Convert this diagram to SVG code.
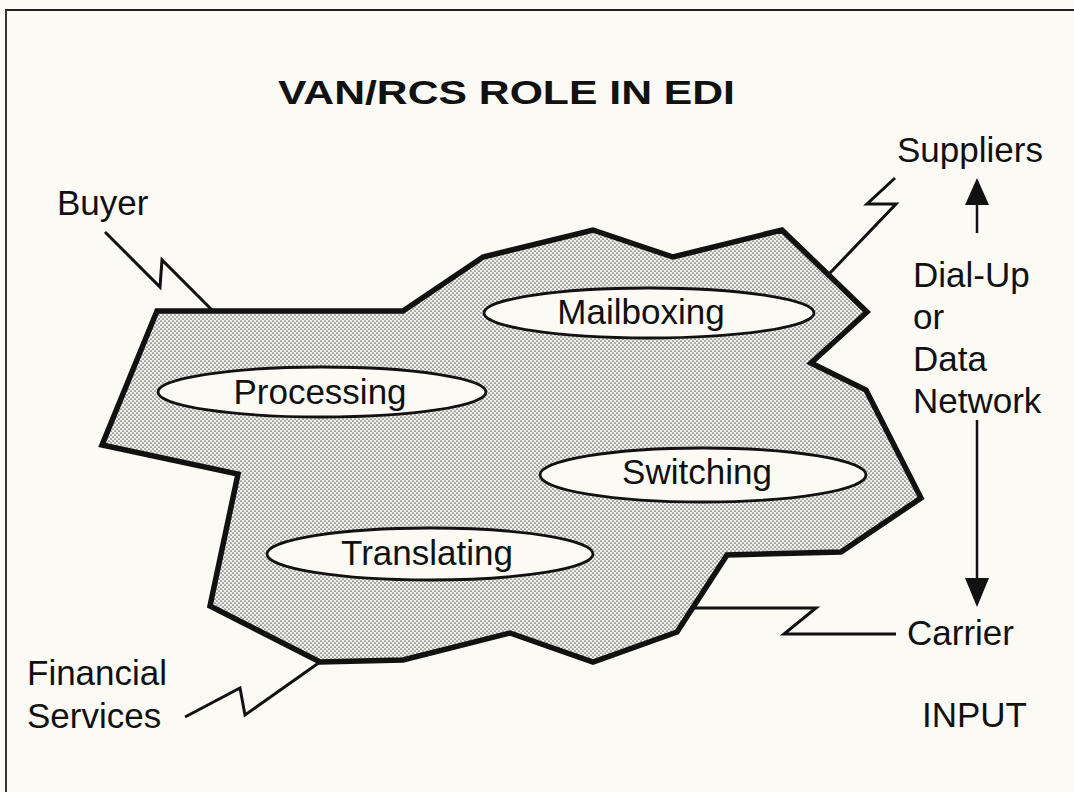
<svg xmlns="http://www.w3.org/2000/svg" width="1074" height="792" viewBox="0 0 1074 792">
  <style>
    .lbl { font-family: "Liberation Sans", Arial, sans-serif; font-size: 35px; fill: #111; }
    .title { font-family: "Liberation Sans", Arial, sans-serif; font-size: 34px; font-weight: bold; fill: #111; }
    .bolt { fill: none; stroke: #111; stroke-width: 3; stroke-linejoin: miter; }
    .task { fill: #fbfaf5; stroke: #111; stroke-width: 2.8; }
    .arrow { stroke: #111; stroke-width: 2.5; }
  </style>
  <defs>
    <!-- halftone dot screen for the network cloud -->
    <pattern id="dots" patternUnits="userSpaceOnUse" width="4" height="4">
      <rect width="4" height="4" fill="#f0f0ec"/>
      <circle cx="1" cy="1" r="0.85" fill="#6a6a6a"/>
      <circle cx="3" cy="3" r="0.85" fill="#6a6a6a"/>
    </pattern>
  </defs>

  <rect width="1074" height="792" fill="#fbfaf5"/>
  <!-- frame -->
  <path d="M6,792 V10 H1074" fill="none" stroke="#222" stroke-width="1.8"/>

  <text class="title" x="278" y="104" textLength="457" lengthAdjust="spacingAndGlyphs">VAN/RCS ROLE IN EDI</text>

  <!-- the VAN/RCS network -->
  <g id="network">
    <polygon points="157,311 403,311 483,257 593,230 673,257 782,230 867,312 811,363 866,390 921,498 841,552 727,555 677,632 593,662 510,633 403,660 320,662 210,606 238,474 102,445"
             fill="url(#dots)" stroke="#111" stroke-width="5.5" stroke-linejoin="miter"/>
  </g>

  <g id="mailboxing">
    <ellipse class="task" cx="649" cy="313" rx="165" ry="25"/>
    <text class="lbl" x="641" y="324" text-anchor="middle">Mailboxing</text>
  </g>
  <g id="processing">
    <ellipse class="task" cx="322" cy="392" rx="164" ry="25"/>
    <text class="lbl" x="320" y="404" text-anchor="middle">Processing</text>
  </g>
  <g id="switching">
    <ellipse class="task" cx="703" cy="475" rx="163" ry="27"/>
    <text class="lbl" x="697" y="484" text-anchor="middle">Switching</text>
  </g>
  <g id="translating">
    <ellipse class="task" cx="430" cy="554" rx="163" ry="26"/>
    <text class="lbl" x="427" y="565" text-anchor="middle">Translating</text>
  </g>

  <g id="buyer"><text class="lbl" x="57" y="215">Buyer</text></g>
  <g id="suppliers"><text class="lbl" x="897" y="162">Suppliers</text></g>
  <g id="carrier"><text class="lbl" x="907" y="645">Carrier</text></g>
  <g id="financial">
    <text class="lbl" x="27" y="685">Financial</text>
    <text class="lbl" x="27" y="728">Services</text>
  </g>
  <g id="link-type">
    <text class="lbl" x="913" y="287">Dial-Up</text>
    <text class="lbl" x="913" y="329">or</text>
    <text class="lbl" x="913" y="371">Data</text>
    <text class="lbl" x="913" y="413">Network</text>
  </g>
  <g id="input"><text class="lbl" x="922" y="727">INPUT</text></g>

  <!-- communication links -->
  <g id="connectors">
    <polyline class="bolt" points="105,232 160,287 162,260 212,310"/>
    <polyline class="bolt" points="830,273 896,204 867,204 895,178"/>
    <polyline class="bolt" points="320,662 245,715 240,688 185,717"/>
    <polyline class="bolt" points="693,608 816,608 784,634 896,634"/>
    <line class="arrow" x1="977" y1="233" x2="977" y2="203"/>
    <polygon points="977,178 965,205 989,205" fill="#111"/>
    <line class="arrow" x1="977" y1="420" x2="977" y2="580"/>
    <polygon points="977,607 965,578 989,578" fill="#111"/>
  </g>
</svg>
